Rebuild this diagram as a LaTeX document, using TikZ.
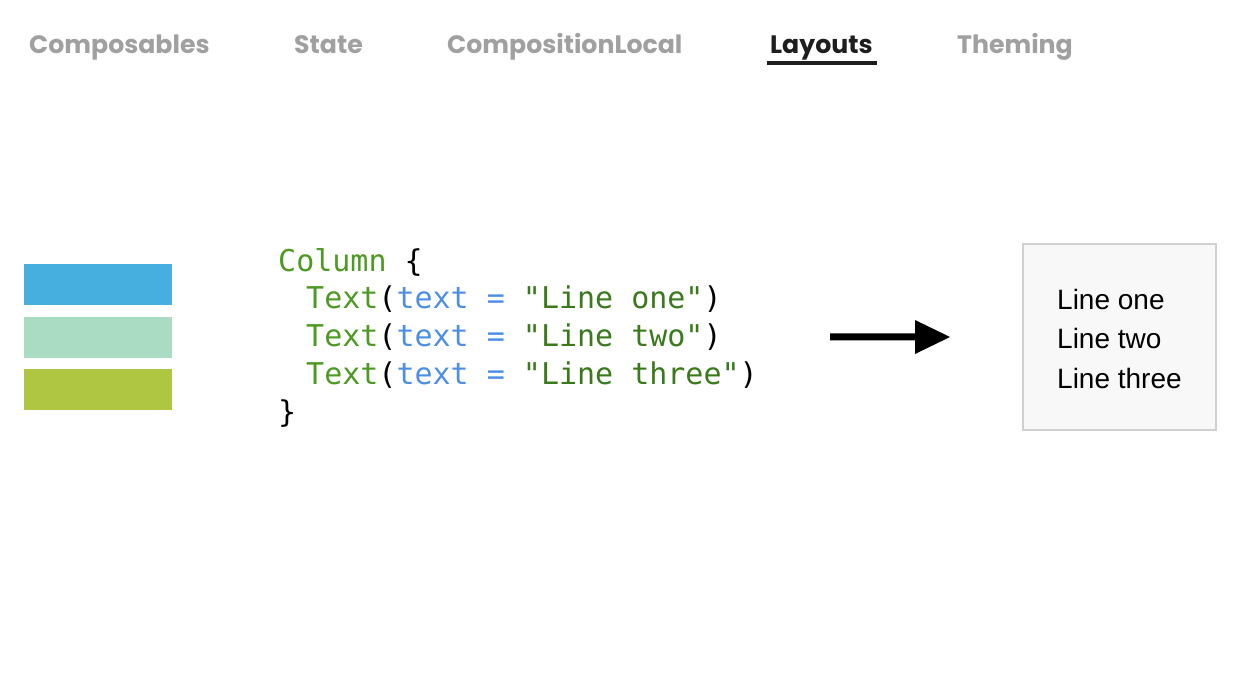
\documentclass[tikz,border=0pt]{standalone}
\usepackage{fontspec}
\newfontfamily\tabfont{Poppins Bold}
\newfontfamily\codefont{DejaVu Sans Mono}
\newfontfamily\uifont{Liberation Sans}
\definecolor{tabgray}{HTML}{A0A0A0}
\definecolor{tabblack}{HTML}{1E1E1E}
\definecolor{codegreen}{HTML}{4C9A22}
\definecolor{strgreen}{HTML}{3A7A1C}
\definecolor{codeblue}{HTML}{4E8FE6}
\definecolor{barblue}{HTML}{47AEE0}
\definecolor{barmint}{HTML}{A9DCC2}
\definecolor{barolive}{HTML}{AFC643}
\definecolor{boxfill}{HTML}{F8F8F8}
\definecolor{boxline}{HTML}{D0D0D0}
\tikzset{
  tab/.style={anchor=base west, inner sep=0pt, font=\tabfont\fontsize{25.2}{25.2}\selectfont, text=tabgray},
  code/.style={anchor=base west, inner sep=0pt, font=\codefont\fontsize{30}{30}\selectfont, text=black},
  bar/.style={draw=none, minimum width=148pt, minimum height=41pt, inner sep=0pt, anchor=north west},
  outline/.style={anchor=base west, inner sep=0pt, font=\uifont\fontsize{28}{28}\selectfont, text=black}
}
\newcommand{\cg}[1]{\textcolor{codegreen}{#1}}
\newcommand{\cb}[1]{\textcolor{codeblue}{#1}}
\newcommand{\cs}[1]{\textcolor{strgreen}{#1}}
\begin{document}
\begin{tikzpicture}[x=1pt,y=-1pt]
\useasboundingbox[fill=white] (0,0) rectangle (1240,700);
% tabs
\node[tab] (t1) at (29,54) {Composables};
\node[tab] (t2) at (294,54) {State};
\node[tab] (t3) at (447,54) {CompositionLocal};
\node[tab, text=tabblack] (t4) at (770,54) {Layouts};
\node[tab] (t5) at (957,54) {Theming};
\draw[tabblack, line width=4pt] (767,63.5) -- (877,63.5);
% bars
\node[bar, fill=barblue] (b1) at (24,264) {};
\node[bar, fill=barmint] (b2) at (24,317) {};
\node[bar, fill=barolive] (b3) at (24,369) {};
% code
\node[code] (c0) at (278,272) {\cg{Column} \{};
\node[code] (c1) at (306,309) {\cg{Text}(\cb{text =} \cs{"Line one"})};
\node[code] (c2) at (306,347) {\cg{Text}(\cb{text =} \cs{"Line two"})};
\node[code] (c3) at (306,385) {\cg{Text}(\cb{text =} \cs{"Line three"})};
\node[code] (c4) at (278,423) {\}};
% arrow
\fill[black] (830,333.5) -- (915,333.5) -- (915,320) -- (950,337) -- (915,354) -- (915,340.5) -- (830,340.5) -- cycle;
% result box
\draw[boxline, line width=2.5pt, fill=boxfill] (1023,244) rectangle (1216,430);
\node[outline] (l1) at (1057,310) {Line one};
\node[outline] (l2) at (1057,349) {Line two};
\node[outline] (l3) at (1057,389) {Line three};
\end{tikzpicture}
\end{document}
